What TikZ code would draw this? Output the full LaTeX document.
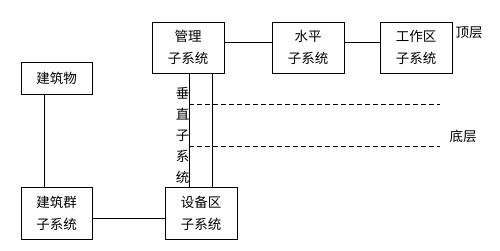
\documentclass[tikz,border=0pt]{standalone}
\usepackage{fontspec}
\newfontfamily\cjk{Noto Sans CJK SC}
\begin{document}
\begin{tikzpicture}[x=1pt,y=-1pt,line width=0.9pt,
  box/.style={draw,minimum width=72pt,inner sep=0pt,align=center,font=\cjk\fontsize{13.5}{22}\selectfont},
  lbl/.style={inner sep=0pt,align=center,font=\cjk\fontsize{13.5}{21}\selectfont},
  layerline/.style={dash pattern=on 5pt off 3pt}]
\useasboundingbox (0,0) rectangle (500,251);
\node[box,minimum height=51pt] (gl) at (188,47.5) {管理\\子系统};
\node[box,minimum height=51pt] (sp) at (308,47.5) {水平\\子系统};
\node[box,minimum height=51pt] (gz) at (416,47.5) {工作区\\子系统};
\node[box,minimum width=71pt,minimum height=32pt] (jzw) at (56.5,78) {建筑物};
\node[box,minimum width=71pt,minimum height=52pt] (jzq) at (56.5,213) {建筑群\\子系统};
\node[box,minimum height=52pt] (sb) at (201,213) {设备区\\子系统};
\node[lbl] (cz) at (182.5,135) {垂\\直\\子\\系\\统};
\node[lbl] (dc) at (469,33) {顶层};
\node[lbl] (bc) at (463,136) {底层};
\coordinate (h1) at (0,42);
\coordinate (h2) at (0,218);
\coordinate (v1) at (189,0);
\coordinate (v2) at (212,0);
\coordinate (v0) at (44,0);
\coordinate (d1a) at (189,104);
\coordinate (d1b) at (440,104);
\coordinate (d2a) at (189,146);
\coordinate (d2b) at (440,146);
\draw (gl.east |- h1) -- (sp.west |- h1);
\draw (sp.east |- h1) -- (gz.west |- h1);
\draw (gl.south -| v1) -- (sb.north -| v1);
\draw (gl.south -| v2) -- (sb.north -| v2);
\draw (jzw.south -| v0) -- (jzq.north -| v0);
\draw (jzq.east |- h2) -- (sb.west |- h2);
\draw[layerline] (d1a) -- (d1b);
\draw[layerline] (d2a) -- (d2b);
\end{tikzpicture}
\end{document}
